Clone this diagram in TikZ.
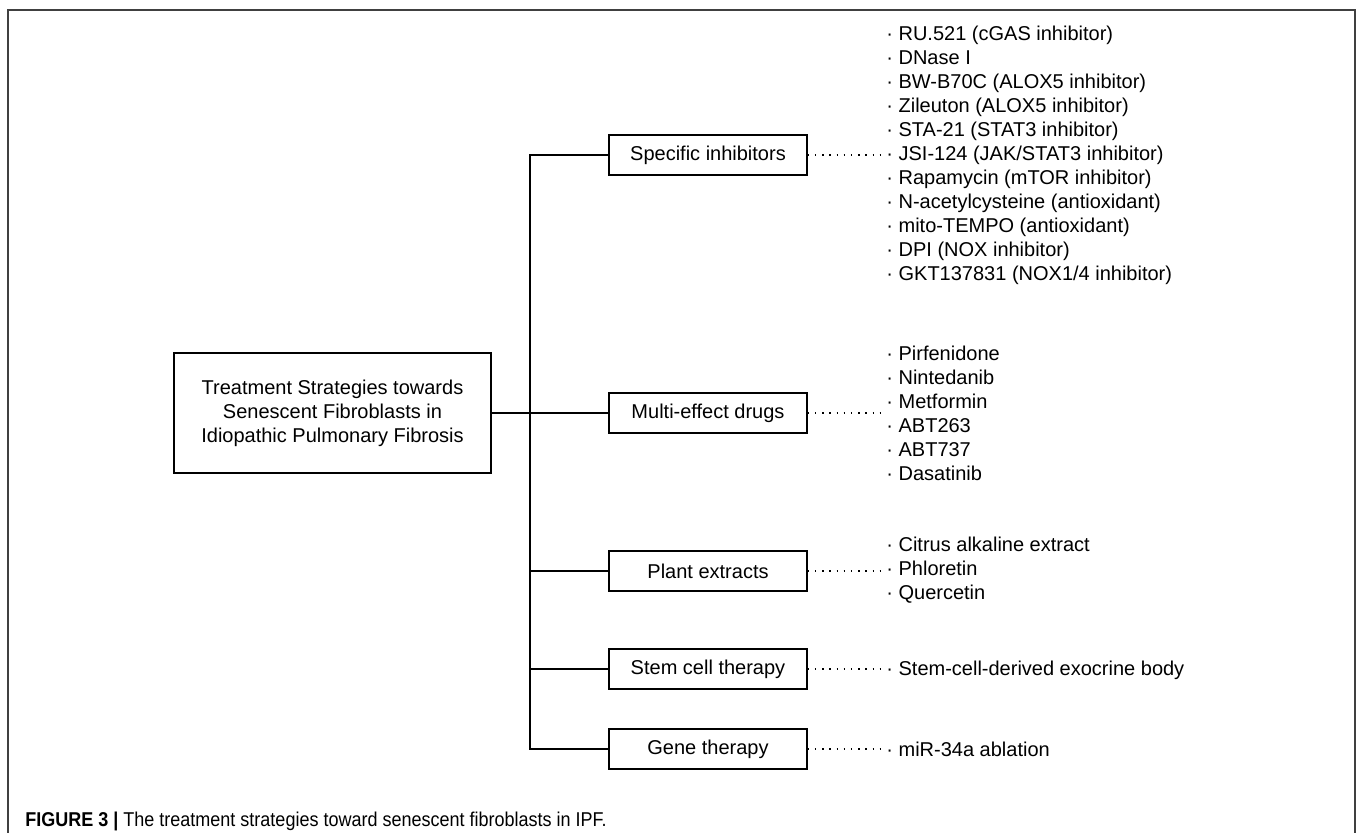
\documentclass[tikz,border=0pt]{standalone}
\usepackage{fontspec}
\setmainfont{Liberation Sans}
\newfontfamily\capfont[FakeStretch=0.9]{Liberation Sans}
\usetikzlibrary{positioning}
\tikzset{
  frame/.style={draw=black!75, line width=0.7pt},
  mainbox/.style={draw, line width=0.7pt, minimum width=158.5pt, minimum height=60pt,
    align=center, inner sep=0pt, font=\fontsize{10}{12}\selectfont},
  catbox/.style={draw, line width=0.7pt, minimum width=99pt, minimum height=20pt,
    inner sep=0pt, font=\fontsize{10}{12}\selectfont},
  itemlist/.style={anchor=west, align=left, inner sep=0pt, font=\fontsize{10}{12}\selectfont},
  branch/.style={line width=0.7pt},
  dotline/.style={line width=0.7pt, dash pattern=on 0.7pt off 2.9pt},
}

\begin{document}
\begin{tikzpicture}[x=0.5pt,y=-0.5pt]
        % Page and outer frame
        \useasboundingbox (0,0) rectangle (1357,833);
        \draw[frame] (8,833) -- (8,10) -- (1355,10) -- (1355,833);

        % Central box
        \node[mainbox] (ts) at (332.5,413) {Treatment Strategies towards\\Senescent Fibroblasts in\\Idiopathic Pulmonary Fibrosis};

        % Strategy boxes
        \node[catbox] (si) at (708,155) {Specific inhibitors};
        \node[catbox] (me) at (708,413) {Multi-effect drugs};
        \node[catbox] (pe) at (708,571) {Plant extracts};
        \node[catbox] (sc) at (708,669) {Stem cell therapy};
        \node[catbox] (gt) at (708,749) {Gene therapy};

        % Tree lines
        \coordinate (sp) at (530,0);
        \draw[branch] (si.west) -| (sp |- gt.west) -- (gt.west);
        \foreach \n in {me,pe,sc} \draw[branch] (sp |- \n.west) -- (\n.west);
        \draw[branch] (ts.east) -- (me.west);

        % Item lists
        \node[itemlist] (sil) at (886,155) {· RU.521 (cGAS inhibitor)\\· DNase I\\· BW-B70C (ALOX5 inhibitor)\\· Zileuton (ALOX5 inhibitor)\\· STA-21 (STAT3 inhibitor)\\· JSI-124 (JAK/STAT3 inhibitor)\\· Rapamycin (mTOR inhibitor)\\· N-acetylcysteine (antioxidant)\\· mito-TEMPO (antioxidant)\\· DPI (NOX inhibitor)\\· GKT137831 (NOX1/4 inhibitor)};
        \node[itemlist] (mel) at (886,413) {· Pirfenidone\\· Nintedanib\\· Metformin\\· ABT263\\· ABT737\\· Dasatinib};
        \node[itemlist] (pel) at (886,570) {· Citrus alkaline extract\\· Phloretin\\· Quercetin};
        \node[itemlist] (scl) at (886,670) {· Stem-cell-derived exocrine body};
        \node[itemlist] (gtl) at (886,749) {· miR-34a ablation};

        % Dotted links
        \foreach \b/\l in {si/sil,me/mel,pe/pel,sc/scl,gt/gtl}
          \draw[dotline] (\b.east) -- ([xshift=-3pt]\b.east -| \l.west);

        % Caption
        \node[anchor=west, inner sep=0pt, font=\capfont\fontsize{10}{12}\selectfont] (cap) at (25,821)
          {\textbf{FIGURE 3 |} The treatment strategies toward senescent fibroblasts in IPF.};
\end{tikzpicture}
\end{document}
